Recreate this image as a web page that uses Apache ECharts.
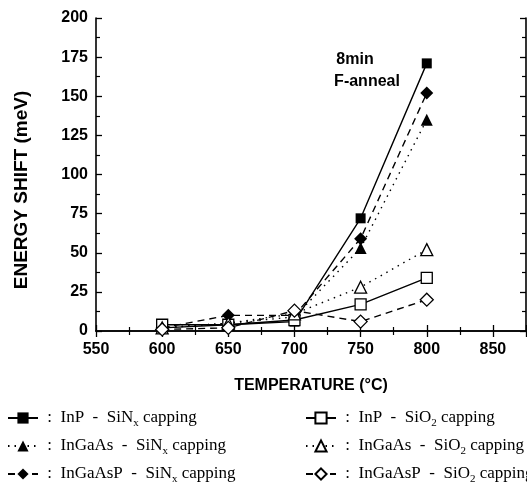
<!DOCTYPE html>
<html>
<head>
<meta charset="utf-8">
<script src="https://cdn.jsdelivr.net/npm/echarts@6/dist/echarts.min.js"></script>
<style>
  html, body { margin: 0; padding: 0; background: #fff; }
  #chart { width: 527px; height: 484px; }
</style>
</head>
<body>
<div id="chart"></div>
<script>
// anneal temperatures (°C)
var temps = [600, 650, 700, 750, 800];

// energy shift (meV), SiNx capping
var inpSiN = [2, 4, 6, 72, 171];
var ingaasSiN = [2, 5, 9, 53, 135];
var ingaaspSiN = [2, 10, 10, 59, 152];
// energy shift (meV), SiO2 capping
var inpSiO = [4, 4, 7, 17, 34];
var ingaasSiO = [2, 5, 11, 28, 52];
var ingaaspSiO = [1, 2, 13, 6, 20];

var namesSiN = ['InP - SiNx capping', 'InGaAs - SiNx capping', 'InGaAsP - SiNx capping'];
var namesSiO = ['InP - SiO2 capping', 'InGaAs - SiO2 capping', 'InGaAsP - SiO2 capping'];

var chart = echarts.init(document.getElementById('chart'), null, { renderer: 'canvas' });

function pairs(ys) {
  return temps.map(function (t, i) { return [t, ys[i]]; });
}

function makeSeries(name, ys, symbol, size, filled, dash) {
  return {
    name: name,
    type: 'line',
    data: pairs(ys),
    symbol: symbol,
    symbolSize: size,
    showAllSymbol: true,
    itemStyle: {
      color: filled ? '#000' : '#fff',
      borderColor: '#000',
      borderWidth: filled ? 0 : 1.3,
      opacity: 1
    },
    lineStyle: { color: '#000', width: 1.4, type: dash },
    z: filled ? 2 : 3
  };
}

var axisFont = { fontFamily: 'Liberation Sans', fontWeight: 'bold', fontSize: 16, color: '#000' };

function legendFormat(name) {
  var s = name.replace(' - ', '  -  ');
  return ' :  ' + s.replace('SiNx', 'SiN{sub|x}').replace('SiO2', 'SiO{sub|2}');
}

var legendText = {
  fontFamily: 'Liberation Serif',
  fontSize: 17,
  color: '#000',
  lineHeight: 22,
  rich: {
    sub: { fontFamily: 'Liberation Serif', fontSize: 11, verticalAlign: 'bottom', lineHeight: 20, color: '#000' }
  }
};

// one legend per entry so the 2 x 3 layout stays put
var legendRows = [402, 430, 458];
var legends = [];
namesSiN.forEach(function (n, i) {
  legends.push({
    data: [n], left: 2, top: legendRows[i],
    itemWidth: 30, itemHeight: 14,
    formatter: legendFormat, textStyle: legendText
  });
});
namesSiO.forEach(function (n, i) {
  legends.push({
    data: [n], left: 300, top: legendRows[i],
    itemWidth: 30, itemHeight: 14,
    formatter: legendFormat, textStyle: legendText
  });
});

var option = {
  animation: false,
  backgroundColor: '#fff',
  grid: { left: 96, right: 1, top: 18, bottom: 153 },
  legend: legends,
  xAxis: [
    {
      type: 'value', min: 550, max: 875, interval: 50,
      name: 'TEMPERATURE (°C)', nameLocation: 'middle', nameGap: 47,
      nameTextStyle: axisFont,
      axisLine: { lineStyle: { color: '#000', width: 1.6 } },
      axisTick: { inside: true, length: 6, lineStyle: { color: '#000', width: 1.3 } },
      minorTick: { show: true, splitNumber: 2, length: 4, lineStyle: { color: '#000', width: 1.2 } },
      axisLabel: Object.assign({ margin: 11, showMaxLabel: false }, axisFont),
      splitLine: { show: false }
    },
    {
      type: 'value', position: 'top', min: 550, max: 875, interval: 50,
      axisLine: { lineStyle: { color: '#000', width: 1.6 } },
      axisTick: { inside: true, length: 6, lineStyle: { color: '#000', width: 1.3 } },
      minorTick: { show: true, splitNumber: 2, length: 4, lineStyle: { color: '#000', width: 1.2 } },
      axisLabel: { show: false },
      splitLine: { show: false }
    }
  ],
  yAxis: [
    {
      type: 'value', min: 0, max: 200, interval: 25,
      axisLine: { lineStyle: { color: '#000', width: 1.6 } },
      axisTick: { inside: true, length: 6, lineStyle: { color: '#000', width: 1.3 } },
      minorTick: { show: true, splitNumber: 2, length: 4, lineStyle: { color: '#000', width: 1.2 } },
      axisLabel: Object.assign({ margin: 8 }, axisFont),
      splitLine: { show: false }
    },
    {
      type: 'value', position: 'right', min: 0, max: 200, interval: 25,
      axisLine: { lineStyle: { color: '#000', width: 1.6 } },
      axisTick: { inside: true, length: 6, lineStyle: { color: '#000', width: 1.3 } },
      minorTick: { show: true, splitNumber: 2, length: 4, lineStyle: { color: '#000', width: 1.2 } },
      axisLabel: { show: false },
      splitLine: { show: false }
    }
  ],
  graphic: [
    {
      type: 'text', x: 22, y: 190, rotation: Math.PI / 2,
      style: { text: 'ENERGY SHIFT (meV)', fontFamily: 'Liberation Sans', fontWeight: 'bold', fontSize: 19,
        fill: '#000', align: 'center', verticalAlign: 'middle' }
    },
    {
      type: 'text', x: 355, y: 60,
      style: { text: '8min', fontFamily: 'Liberation Sans', fontWeight: 'bold', fontSize: 16,
        fill: '#000', align: 'center', verticalAlign: 'middle' }
    },
    {
      type: 'text', x: 367, y: 82,
      style: { text: 'F-anneal', fontFamily: 'Liberation Sans', fontWeight: 'bold', fontSize: 16,
        fill: '#000', align: 'center', verticalAlign: 'middle' }
    }
  ],
  series: [
    makeSeries(namesSiN[0], inpSiN, 'rect', 10, true, 'solid'),
    makeSeries(namesSiN[1], ingaasSiN, 'triangle', 12, true, [1.5, 5]),
    makeSeries(namesSiN[2], ingaaspSiN, 'diamond', 13, true, [7, 5]),
    makeSeries(namesSiO[0], inpSiO, 'rect', 11, false, 'solid'),
    makeSeries(namesSiO[1], ingaasSiO, 'triangle', 12, false, [1.5, 5]),
    makeSeries(namesSiO[2], ingaaspSiO, 'diamond', 13, false, [7, 5])
  ]
};

chart.setOption(option);
</script>
</body>
</html>
